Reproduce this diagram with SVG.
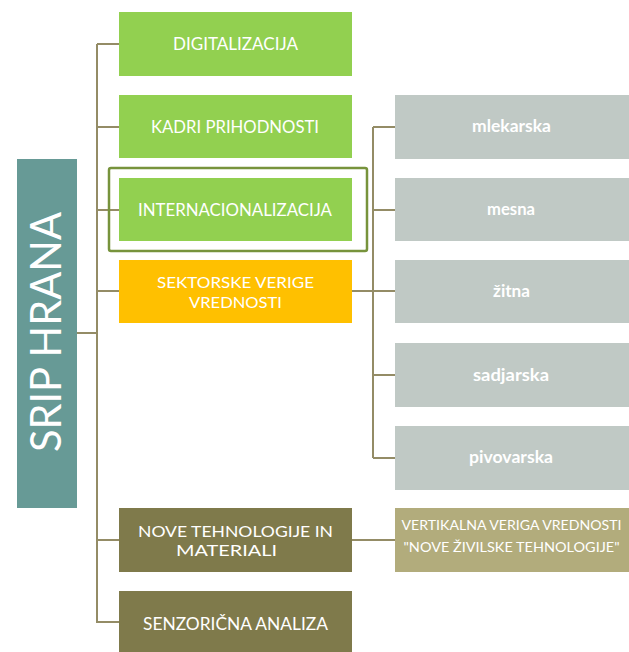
<svg xmlns="http://www.w3.org/2000/svg" width="629" height="652" viewBox="0 0 629 652">
<style>
.t{font-family:Lato,"Open Sans","DejaVu Sans",sans-serif;fill:#ffffff;text-anchor:middle}
.c{font-size:18px}
.n{font-size:16px}
.v{font-size:14px}
.l{font-size:17px;font-weight:bold}
.ln{fill:none;stroke:#948c66;stroke-width:2}
.green{fill:#92d050}
.gray{fill:#c0c9c5}
.olive{fill:#7f7a4b}
</style>
<rect width="629" height="652" fill="#ffffff"/>
<g id="connectors">
<path class="ln" d="M77,333H97M97,44V623M97,44H119M97,127H119M97,210H119M97,291H119M97,540H119M97,622H119"/>
<path class="ln" d="M352,291H373M373,127V458M373,127H395M373,210H395M373,291H395M373,375H395M373,458H395"/>
<path class="ln" d="M352,540H395"/>
</g>
<g id="srip-hrana">
<rect x="17" y="159" width="60" height="349" fill="#679a96"/>
<text class="t" transform="translate(61,332) rotate(-90)" font-size="43" textLength="240" lengthAdjust="spacingAndGlyphs">SRIP HRANA</text>
</g>
<g id="digitalizacija">
<rect class="green" x="119" y="12" width="233" height="64"/>
<text class="t c" x="235.5" y="50" textLength="125" lengthAdjust="spacingAndGlyphs">DIGITALIZACIJA</text>
</g>
<g id="kadri">
<rect class="green" x="119" y="95" width="233" height="63"/>
<text class="t c" x="235" y="133" textLength="168" lengthAdjust="spacingAndGlyphs">KADRI PRIHODNOSTI</text>
</g>
<g id="internacionalizacija">
<rect x="109" y="168" width="258" height="83" rx="2" fill="none" stroke="#77933c" stroke-width="2.5"/>
<rect class="green" x="119" y="178" width="233" height="63"/>
<text class="t c" x="235" y="216" textLength="194" lengthAdjust="spacingAndGlyphs">INTERNACIONALIZACIJA</text>
</g>
<g id="sektorske">
<rect x="119" y="260" width="233" height="63" fill="#ffc000"/>
<text class="t n" x="235.5" y="288" textLength="157" lengthAdjust="spacingAndGlyphs">SEKTORSKE VERIGE</text>
<text class="t n" x="235.5" y="308" textLength="93" lengthAdjust="spacingAndGlyphs">VREDNOSTI</text>
</g>
<g id="mlekarska">
<rect class="gray" x="395" y="95" width="234" height="64"/>
<text class="t l" x="511.5" y="132" textLength="79" lengthAdjust="spacingAndGlyphs">mlekarska</text>
</g>
<g id="mesna">
<rect class="gray" x="395" y="178" width="234" height="63"/>
<text class="t l" x="511" y="215" textLength="48" lengthAdjust="spacingAndGlyphs">mesna</text>
</g>
<g id="zitna">
<rect class="gray" x="395" y="260" width="234" height="63"/>
<text class="t l" x="511.5" y="297" textLength="37" lengthAdjust="spacingAndGlyphs">žitna</text>
</g>
<g id="sadjarska">
<rect class="gray" x="395" y="343" width="234" height="64"/>
<text class="t l" x="511" y="381" textLength="76" lengthAdjust="spacingAndGlyphs">sadjarska</text>
</g>
<g id="pivovarska">
<rect class="gray" x="395" y="426" width="234" height="64"/>
<text class="t l" x="511" y="463" textLength="84" lengthAdjust="spacingAndGlyphs">pivovarska</text>
</g>
<g id="nove-tehnologije">
<rect class="olive" x="119" y="508" width="233" height="64"/>
<text class="t n" x="235.5" y="537" textLength="195" lengthAdjust="spacingAndGlyphs">NOVE TEHNOLOGIJE IN</text>
<text class="t n" x="226.5" y="556" textLength="101" lengthAdjust="spacingAndGlyphs">MATERIALI</text>
</g>
<g id="vertikalna">
<rect x="395" y="508" width="234" height="64" fill="#b2ac7c"/>
<text class="t v" x="511.5" y="530" textLength="220" lengthAdjust="spacingAndGlyphs">VERTIKALNA VERIGA VREDNOSTI</text>
<text class="t v" x="511.5" y="552" textLength="216" lengthAdjust="spacingAndGlyphs">"NOVE ŽIVILSKE TEHNOLOGIJE"</text>
</g>
<g id="senzoricna">
<rect class="olive" x="119" y="591" width="233" height="64"/>
<text class="t c" x="235.5" y="630" textLength="185" lengthAdjust="spacingAndGlyphs">SENZORIČNA ANALIZA</text>
</g>
</svg>
